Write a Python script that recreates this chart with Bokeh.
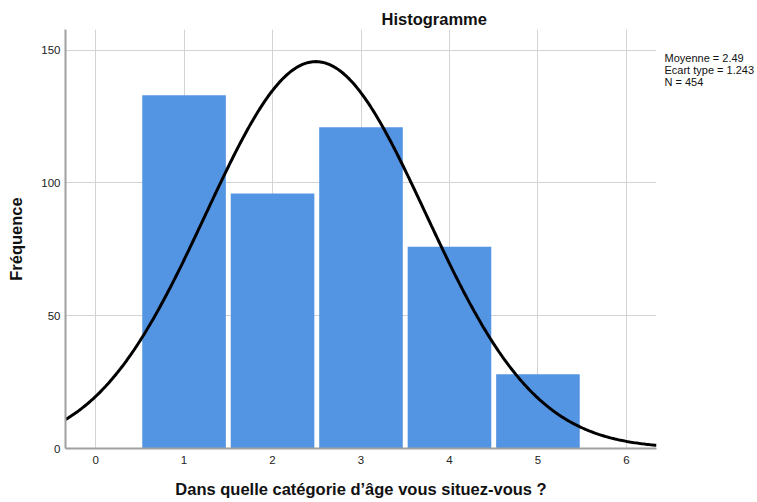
import numpy as np
from bokeh.plotting import figure
from bokeh.models import Range1d, FixedTicker, ColumnDataSource, LinearAxis
from bokeh.embed import file_html
from bokeh.resources import INLINE

# ---- data ----
categories = [1, 2, 3, 4, 5]
frequencies = [133, 96, 121, 76, 28]
x_ticks = [0, 1, 2, 3, 4, 5, 6]
y_ticks = [0, 50, 100, 150]
MEAN = 2.49
SD = 1.243
N = 454
title_text = "Histogramme"
x_label = "Dans quelle catégorie d\u2019âge vous situez-vous ?"
y_label = "Fréquence"
stats_lines = ["Moyenne = 2.49", "Ecart type = 1.243", "N = 454"]

X0, X1 = -0.34, 6.34
Y0, Y1 = 0, 157.8
FRAME_H = 419

FONT = "Liberation Sans"
BLUE = "#5495e3"
TXT = "#111111"

p = figure(width=757, height=502, output_backend="svg", toolbar_location=None,
           x_range=Range1d(X0, X1), y_range=Range1d(Y0, Y1),
           min_border_left=65, min_border_right=100, min_border_top=29,
           min_border_bottom=54)
p.outline_line_color = None
p.background_fill_color = "white"
p.border_fill_color = "white"

# title
p.title.text = title_text
p.title.align = "left"
p.title.offset = 316
p.title.standoff = 0
p.title.vertical_align = "top"
p.title.text_font = FONT
p.title.text_font_style = "bold"
p.title.text_font_size = "16.5px"
p.title.text_color = TXT

# grid
p.xgrid.ticker = FixedTicker(ticks=x_ticks)
p.ygrid.ticker = FixedTicker(ticks=y_ticks)
for g in (p.xgrid, p.ygrid):
    g.grid_line_color = "#d3d3d3"
    g.grid_line_width = 1

# axes
for ax in (p.xaxis, p.yaxis):
    ax.axis_line_color = "#a0a0a0"
    ax.axis_line_width = 2
    ax.major_tick_out = 0
    ax.major_tick_in = 0
    ax.minor_tick_line_color = None
    ax.major_label_text_font = FONT
    ax.major_label_text_font_size = "11.5px"
    ax.major_label_text_color = "#222222"
    ax.axis_label_text_font = FONT
    ax.axis_label_text_font_style = "bold"
    ax.axis_label_text_font_size = "16.5px"
    ax.axis_label_text_color = TXT
p.xaxis.ticker = FixedTicker(ticks=x_ticks)
p.yaxis.ticker = FixedTicker(ticks=y_ticks)
p.xaxis.major_label_standoff = 7
p.yaxis.major_label_standoff = 5
p.xaxis.axis_label = x_label
p.yaxis.axis_label = y_label
p.xaxis.axis_label_standoff = 13
p.yaxis.axis_label_standoff = 13

# bars
src = ColumnDataSource(dict(x=categories, top=frequencies))
p.vbar(x="x", top="top", width=0.945, bottom=0, source=src,
       fill_color=BLUE, line_color=None)

# normal curve from the stated statistics
xs = np.linspace(X0, X1, 400)
ys = N * 1.0 * np.exp(-0.5 * ((xs - MEAN) / SD) ** 2) / (SD * np.sqrt(2 * np.pi))
p.line(xs, ys, line_color="black", line_width=3)

# statistics text block: an unlined axis on the right whose labels are the lines
p.extra_y_ranges = {"stats": Range1d(0, FRAME_H)}
stat_pos = [391, 379, 367]
stats_axis = LinearAxis(y_range_name="stats", ticker=FixedTicker(ticks=stat_pos),
                        major_label_overrides={pos: s for pos, s in zip(stat_pos, stats_lines)},
                        axis_line_color=None, major_tick_line_color=None,
                        minor_tick_line_color=None, major_tick_in=0, major_tick_out=0,
                        major_label_standoff=8, major_label_text_font=FONT,
                        major_label_text_font_size="11px", major_label_text_color=TXT)
p.add_layout(stats_axis, "right")

open("out.html", "w").write(file_html(p, INLINE))
